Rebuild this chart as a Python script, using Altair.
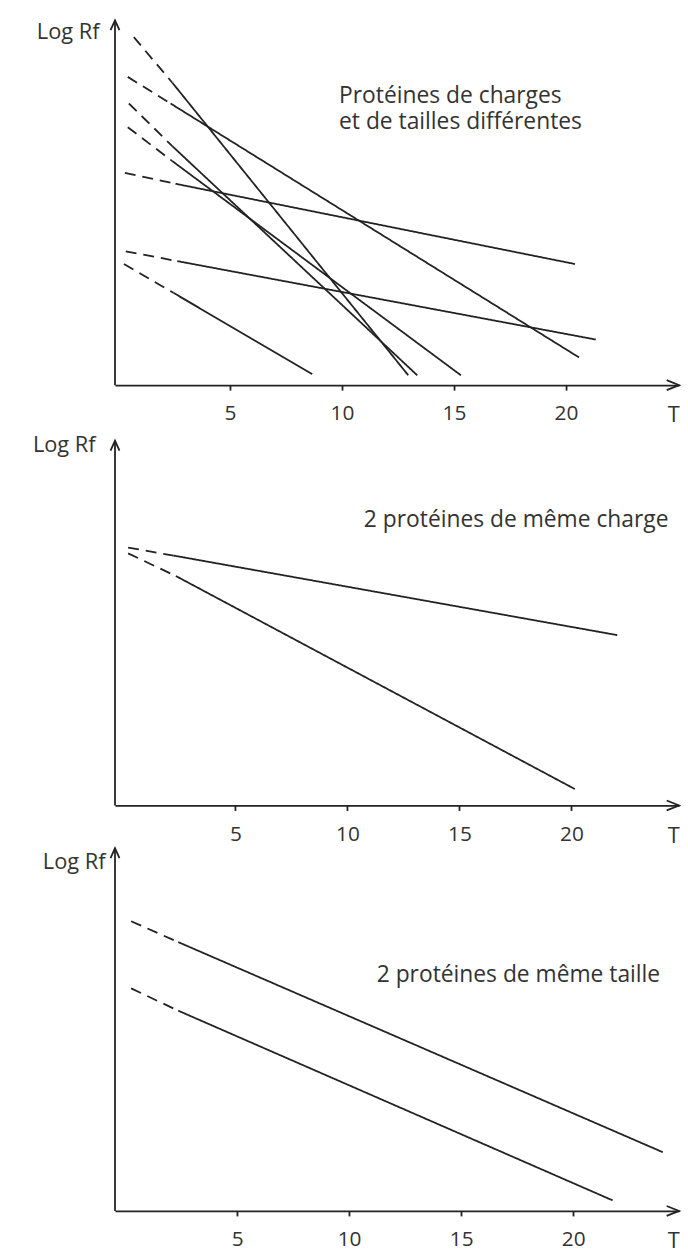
import altair as alt
import pandas as pd

# ---------------- data ----------------
# Panel 1 : "Protéines de charges et de tailles différentes"
P1_IDS = ["A", "B", "C", "D", "E", "F", "G"]
P1_X_START = [0.71, 0.44, 0.49, 0.44, 0.31, 0.35, 0.27]
P1_Y_START = [9.54, 8.45, 7.72, 7.07, 5.82, 3.67, 3.32]
P1_X_BREAK = [2.43, 2.35, 2.43, 2.43, 2.57, 2.65, 2.48]
P1_Y_BREAK = [8.29, 7.72, 6.55, 6.14, 5.52, 3.40, 2.53]
P1_X_END = [12.96, 20.58, 13.36, 15.31, 20.40, 21.33, 8.67]
P1_Y_END = [0.27, 0.76, 0.27, 0.27, 3.32, 1.25, 0.30]

# Panel 2 : "2 protéines de même charge"
P2_IDS = ["haut", "bas"]
P2_X_START = [0.21, 0.21]
P2_Y_START = [7.07, 6.91]
P2_X_BREAK = [2.24, 2.34]
P2_Y_BREAK = [6.85, 6.29]
P2_X_END = [22.04, 20.15]
P2_Y_END = [4.67, 0.45]

# Panel 3 : "2 protéines de même taille"
P3_IDS = ["haut", "bas"]
P3_X_START = [0.27, 0.27]
P3_Y_START = [7.94, 6.10]
P3_X_BREAK = [2.37, 2.37]
P3_Y_BREAK = [7.37, 5.49]
P3_X_END = [24.00, 21.76]
P3_Y_END = [1.61, 0.29]

TICK_VALUES = [5, 10, 15, 20]
X_TITLE = "T"
Y_TITLE = "Log Rf"
P1_NOTE = ["Protéines de charges", "et de tailles différentes"]
P2_NOTE = ["2 protéines de même charge"]
P3_NOTE = ["2 protéines de même taille"]

# ---------------- style ----------------
FONT = "Open Sans"
FS = 22
NOTE_FS = 23
INK = "#222222"
TXT = "#333333"
LW = 1.8
PX_PER_X = 22.6
PX_PER_Y = 36.8
W = 569


def build_df(ids, xs, ys, xb, yb, xe, ye):
    rows = []
    for i, lid in enumerate(ids):
        rows.append({"key": f"{lid}-d", "seg": "pointillé", "o": 0, "x": xs[i], "y": ys[i]})
        rows.append({"key": f"{lid}-d", "seg": "pointillé", "o": 1, "x": xb[i], "y": yb[i]})
        rows.append({"key": f"{lid}-s", "seg": "trait", "o": 0, "x": xb[i], "y": yb[i]})
        rows.append({"key": f"{lid}-s", "seg": "trait", "o": 1, "x": xe[i], "y": ye[i]})
    return pd.DataFrame(rows)


def panel(df, notes, note_x, note_y0, xmin, height, arrow_off, ytitle_x, ytitle_y):
    xmax = xmin + W / PX_PER_X
    ymax = height / PX_PER_Y
    xsc = alt.Scale(domain=[xmin, xmax], nice=False, zero=False)
    ysc = alt.Scale(domain=[0, ymax], nice=False, zero=False)

    lines = alt.Chart(df).mark_line(strokeWidth=LW, color=INK, clip=False).encode(
        x=alt.X("x:Q", scale=xsc, axis=alt.Axis(
            values=TICK_VALUES, tickSize=5, tickWidth=LW, tickColor=INK,
            domainColor=INK, domainWidth=LW, grid=False,
            labelFont=FONT, labelFontSize=21, labelColor=TXT, labelPadding=13,
            title=X_TITLE, titleFont=FONT, titleFontSize=FS, titleFontWeight="normal",
            titleColor=TXT, titleX=W - 6, titleY=37, titleAlign="center",
            titleBaseline="alphabetic")),
        y=alt.Y("y:Q", scale=ysc, axis=alt.Axis(
            domain=False, ticks=False, labels=False, grid=False,
            title=Y_TITLE, titleFont=FONT, titleFontSize=FS, titleFontWeight="normal",
            titleColor=TXT, titleAngle=0, titleX=ytitle_x, titleY=ytitle_y,
            titleAlign="right", titleBaseline="top")),
        detail="key:N",
        order="o:Q",
        strokeDash=alt.StrokeDash("seg:N", legend=None, scale=alt.Scale(
            domain=["pointillé", "trait"], range=[[11, 7], [1, 0]])),
    )

    one = pd.DataFrame({"k": [0]})
    yaxis = alt.Chart(one).mark_rule(strokeWidth=LW, color=INK).encode(
        x=alt.value(0), y=alt.value(arrow_off), y2=alt.value(height))
    yarrow = alt.Chart(one).mark_point(
        shape="M -0.45 1 L 0 0 L 0.45 1", filled=False, size=400,
        strokeWidth=LW, color=INK, opacity=1).encode(
        x=alt.value(0), y=alt.value(arrow_off))
    xarrow = alt.Chart(one).mark_point(
        shape="M -1 -0.4 L 0 0 L -1 0.4", filled=False, size=625,
        strokeWidth=LW, color=INK, opacity=1).encode(
        x=alt.value(W), y=alt.value(height))

    note = alt.Chart(pd.DataFrame({"t": ["\n".join(notes)]})).mark_text(
        font=FONT, fontSize=NOTE_FS, color=TXT, align="left", baseline="alphabetic",
        lineBreak="\n", lineHeight=27).encode(
        text="t:N", x=alt.value(note_x), y=alt.value(note_y0))
    return alt.layer(lines, yaxis, yarrow, xarrow, note).properties(width=W, height=height)


df1 = build_df(P1_IDS, P1_X_START, P1_Y_START, P1_X_BREAK, P1_Y_BREAK, P1_X_END, P1_Y_END)
df2 = build_df(P2_IDS, P2_X_START, P2_Y_START, P2_X_BREAK, P2_Y_BREAK, P2_X_END, P2_Y_END)
df3 = build_df(P3_IDS, P3_X_START, P3_Y_START, P3_X_BREAK, P3_Y_BREAK, P3_X_END, P3_Y_END)

c1 = panel(df1, P1_NOTE, 226, 83, -0.13, 368, 0, -16, 1)
c2 = panel(df2, P2_NOTE, 251, 100, -0.376, 381, 13, -20, 7)
c3 = panel(df3, P3_NOTE, 264, 135, -0.45, 366, 0, -10, 4)

chart = alt.vconcat(c1, c2, c3, spacing=43, bounds="flush").configure_view(
    stroke=None).properties(
    padding={"left": 32, "top": 11, "right": 5, "bottom": 5}, background="white")

chart.save("out.html", embed_options={"renderer": "svg", "actions": False})
